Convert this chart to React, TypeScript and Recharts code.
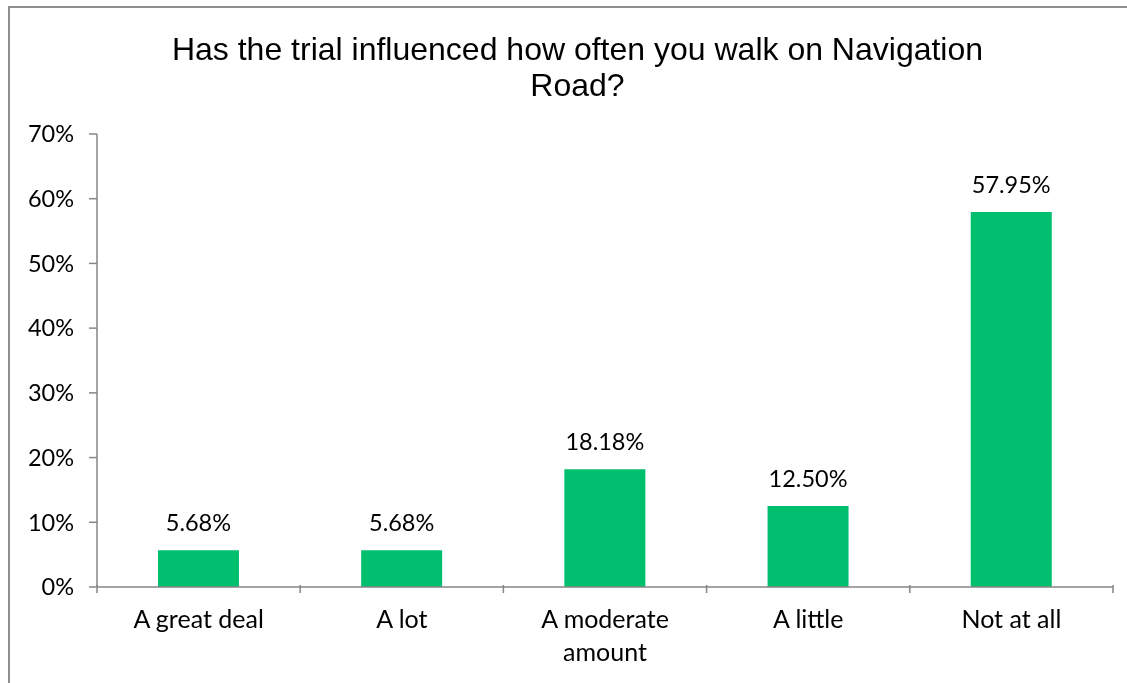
import { BarChart, Bar, XAxis, YAxis, LabelList } from "recharts";

const categories = ["A great deal", "A lot", "A moderate amount", "A little", "Not at all"];
const shares = [5.68, 5.68, 18.18, 12.5, 57.95];
const yTicks = [0, 10, 20, 30, 40, 50, 60, 70];
const titleLines = ["Has the trial influenced how often you walk on Navigation", "Road?"];

const data = categories.map((name, i) => ({ name, share: shares[i] }));

const AXIS = "#868686";
const BAR = "#00BF6F";
const LABEL_FONT = "Lato, 'Open Sans', sans-serif";

// splits a category label into lines that fit roughly in the bar slot
function wrap(label: string, max = 12): string[] {
  const out: string[] = [];
  let cur = "";
  for (const w of label.split(" ")) {
    if (cur && (cur + " " + w).length > max) {
      out.push(cur);
      cur = w;
    } else {
      cur = cur ? cur + " " + w : w;
    }
  }
  if (cur) out.push(cur);
  return out;
}

function CategoryTick(props: any) {
  const { x, y, payload, index, visibleTicksCount } = props;
  const half = payload?.offset ?? 101.6;
  const axisY = y - 10;
  const lines = wrap(String(payload.value));
  return (
    <g>
      <line x1={x - half} x2={x - half} y1={axisY} y2={axisY + 8} stroke={AXIS} strokeWidth={1.5} />
      {index === visibleTicksCount - 1 && (
        <line x1={x + half} x2={x + half} y1={axisY} y2={axisY + 8} stroke={AXIS} strokeWidth={1.5} />
      )}
      <text x={x} y={y + 33} textAnchor="middle" fill="#000" fontFamily={LABEL_FONT} fontSize={25}>
        {lines.map((l, i) => (
          <tspan key={i} x={x} dy={i === 0 ? 0 : 33}>
            {l}
          </tspan>
        ))}
      </text>
    </g>
  );
}

export default function App() {
  return (
    <div>
      <div
        style={{
          position: "fixed",
          left: 8,
          top: 6,
          width: 1200,
          height: 800,
          border: "2px solid #8e8e8e",
          boxSizing: "border-box",
        }}
      />
      <div
        style={{
          position: "fixed",
          left: 0,
          top: 31,
          width: 1155,
          textAlign: "center",
          fontFamily: "'Liberation Sans', Arial, sans-serif",
          fontSize: 32,
          lineHeight: "36px",
          color: "#000",
        }}
      >
        {titleLines.map((t) => (
          <div key={t}>{t}</div>
        ))}
      </div>
      <div style={{ position: "fixed", left: 0, top: 0 }}>
        <BarChart
          width={1127}
          height={683}
          data={data}
          margin={{ top: 134, right: 14, bottom: 36, left: 37 }}
          barCategoryGap="30%"
        >
          <XAxis
            dataKey="name"
            height={60}
            interval={0}
            stroke={AXIS}
            strokeWidth={1.5}
            tickLine={false}
            tick={<CategoryTick />}
          />
          <YAxis
            width={60}
            domain={[0, 70]}
            ticks={yTicks}
            interval={0}
            tickFormatter={(v: number) => `${v}%`}
            stroke={AXIS}
            strokeWidth={1.5}
            tickSize={8}
            tickMargin={15}
            tick={{ fill: "#000", fontFamily: LABEL_FONT, fontSize: 23.5 }}
          />
          <Bar dataKey="share" fill={BAR} isAnimationActive={false}>
            <LabelList
              dataKey="share"
              position="top"
              offset={19}
              formatter={(v: any) => `${Number(v).toFixed(2)}%`}
              fill="#000"
              fontFamily={LABEL_FONT}
              fontSize={23.5}
            />
          </Bar>
        </BarChart>
      </div>
    </div>
  );
}
